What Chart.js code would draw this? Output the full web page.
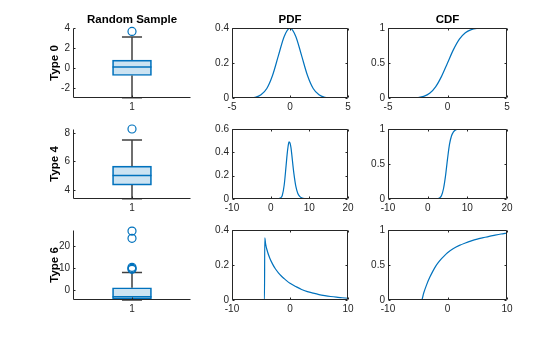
<!DOCTYPE html>
<html>
<head>
<meta charset="utf-8">
<script src="https://cdn.jsdelivr.net/npm/chart.js@4.4.1/dist/chart.umd.min.js"></script>
<style>
  body { margin: 0; background: #fff; width: 560px; height: 337px; position: relative; overflow: hidden; }
  canvas { position: absolute; }
</style>
</head>
<body>
<canvas id="box0"></canvas><canvas id="pdf0"></canvas><canvas id="cdf0"></canvas>
<canvas id="box1"></canvas><canvas id="pdf1"></canvas><canvas id="cdf1"></canvas>
<canvas id="box2"></canvas><canvas id="pdf2"></canvas><canvas id="cdf2"></canvas>
<script>
// ---- data ----
const rowNames = ['Type 0', 'Type 4', 'Type 6'];
const colTitles = ['Random Sample', 'PDF', 'CDF'];

// box stats: [lower whisker, q1, median, q3, upper whisker]
const boxType0 = [-3.0, -0.76, 0.1, 0.78, 3.1];
const outType0 = [3.66];
const boxType4 = [3.36, 4.33, 5.0, 5.66, 7.5];
const outType4 = [8.28];
const boxType6 = [-4.35, -4.0, -2.9, 1.2, 8.1];
const outType6 = [9.6, 10.0, 10.5, 23.7, 27.0];

const boxYLim0 = [-3.02, 4.0];
const boxYLim4 = [3.35, 8.28];
const boxYLim6 = [-4.4, 27.5];
const boxYTicks0 = [-2, 0, 2, 4];
const boxYTicks4 = [4, 6, 8];
const boxYTicks6 = [0, 10, 20];
const boxXTicks = [1];

// Type 0
const x0 = [-5, -4.5, -4, -3.5, -3, -2.5, -2, -1.5, -1, -0.5, 0, 0.5, 1, 1.5, 2, 2.5, 3, 3.5, 4, 4.5, 5];
const pdf0 = [0, 0, 0.0001, 0.001, 0.004, 0.018, 0.054, 0.13, 0.242, 0.352, 0.399, 0.352, 0.242, 0.13, 0.054, 0.018, 0.004, 0.001, 0.0001, 0, 0];
const cdf0 = [0, 0, 0, 0.0002, 0.001, 0.006, 0.023, 0.067, 0.159, 0.309, 0.5, 0.691, 0.841, 0.933, 0.977, 0.994, 0.999, 1, 1, 1, 1];

// Type 4
const x4pdf = [-5, 0, 1, 2, 2.5, 3, 3.5, 4, 4.25, 4.5, 4.75, 5, 5.25, 5.5, 5.75, 6, 6.5, 7, 7.5, 8, 9, 10, 12, 15];
const pdf4 = [0, 0, 0, 0.003, 0.009, 0.03, 0.12, 0.29, 0.38, 0.45, 0.49, 0.48, 0.44, 0.37, 0.29, 0.22, 0.11, 0.05, 0.022, 0.01, 0.003, 0.001, 0, 0];
const x4cdf = [-5, 0, 2, 2.5, 3, 3.5, 4, 4.5, 5, 5.5, 6, 6.5, 7, 7.5, 8, 10, 15];
const cdf4 = [0, 0, 0.002, 0.005, 0.015, 0.05, 0.15, 0.33, 0.57, 0.78, 0.9, 0.96, 0.985, 0.994, 0.998, 1, 1];

// Type 6
const x6pdf = [-10, -4.4, -4.35, -4.2, -4, -3.5, -3, -2.5, -2, -1.5, -1, -0.5, 0, 1, 2, 3, 4, 5, 6, 7, 8, 9, 10];
const pdf6 = [0, 0, 0.355, 0.32, 0.29, 0.24, 0.205, 0.177, 0.155, 0.137, 0.122, 0.108, 0.096, 0.077, 0.06, 0.048, 0.039, 0.031, 0.025, 0.02, 0.016, 0.013, 0.01];
const x6cdf = [-10, -4.35, -4, -3.5, -3, -2.5, -2, -1.5, -1, -0.5, 0, 1, 2, 3, 4, 5, 6, 7, 8, 9, 10];
const cdf6 = [0, 0, 0.1, 0.22, 0.32, 0.405, 0.48, 0.54, 0.59, 0.635, 0.675, 0.735, 0.78, 0.815, 0.845, 0.87, 0.89, 0.91, 0.927, 0.943, 0.957];

const pdfXLim = [[-5, 5], [-10, 20], [-10, 10]];
const pdfXTicks = [[-5, 0, 5], [-10, 0, 10, 20], [-10, 0, 10]];
const pdfYMax = [0.4, 0.6, 0.4];
const pdfYTicks = [[0, 0.2, 0.4], [0, 0.2, 0.4, 0.6], [0, 0.2, 0.4]];
const cdfYTicks = [0, 0.5, 1];

// ---- look ----
const FONT = "'Liberation Sans', Arial, Helvetica, sans-serif";
const BLUE = '#0072BD';
const AXIS = '#262626';
const colLeft = [73, 232, 388];
const colWidth = [118, 116, 119];
const rowTop = [28, 129, 230];
const rowHeight = 70;
const PAD_T = 20, PAD_R = 12, PAD_B = 18;
const BOX_HALF = 0.165, CAP_HALF = 0.085;

// axis lines + inward ticks (matlab style)
const frame = {
  id: 'frame',
  afterDraw(chart) {
    const { ctx, chartArea: a, scales: { x, y } } = chart;
    const boxed = chart.options.plugins.frame.boxed;
    const l = Math.floor(a.left) + 0.5, r = Math.floor(a.right) - 0.5;
    const t = Math.floor(a.top) + 0.5, b = Math.floor(a.bottom) - 0.5;
    ctx.save();
    ctx.strokeStyle = AXIS;
    ctx.lineWidth = 1;
    ctx.beginPath();
    ctx.moveTo(l, t); ctx.lineTo(l, b); ctx.lineTo(r, b);
    if (boxed) { ctx.lineTo(r, t); ctx.lineTo(l, t); }
    x.ticks.forEach(tk => {
      const px = Math.round(x.getPixelForValue(tk.value)) + 0.5;
      ctx.moveTo(px, b); ctx.lineTo(px, b - 2);
      if (boxed) { ctx.moveTo(px, t); ctx.lineTo(px, t + 2); }
    });
    y.ticks.forEach(tk => {
      const py = Math.round(y.getPixelForValue(tk.value)) + 0.5;
      ctx.moveTo(l, py); ctx.lineTo(l + 2, py);
      if (boxed) { ctx.moveTo(r, py); ctx.lineTo(r - 2, py); }
    });
    ctx.stroke();
    ctx.restore();
  }
};

function place(id, col, row, padL) {
  const cv = document.getElementById(id);
  cv.width = padL + colWidth[col] + PAD_R;
  cv.height = PAD_T + rowHeight + PAD_B;
  cv.style.left = (colLeft[col] - padL) + 'px';
  cv.style.top = (rowTop[row] - PAD_T) + 'px';
  return cv;
}

function axis(min, max, ticks, fit) {
  return {
    type: 'linear', min, max, offset: false,
    afterBuildTicks: s => { s.ticks = ticks.map(v => ({ value: v })); },
    afterFit: fit,
    ticks: { font: { family: FONT, size: 10 }, color: AXIS, padding: 3, maxRotation: 0, autoSkip: false, callback: v => String(v) },
    grid: { display: false, drawTicks: false },
    border: { display: false }
  };
}

function baseOptions(row, col, padL, xScale, yScale, boxed) {
  return {
    responsive: false, animation: false, devicePixelRatio: 1, events: [],
    layout: { padding: { top: row === 0 ? 5.1 : PAD_T, right: PAD_R, bottom: 0, left: 0 } },
    scales: { x: xScale, y: yScale },
    plugins: {
      legend: { display: false },
      tooltip: { enabled: false },
      frame: { boxed },
      title: {
        display: row === 0, text: colTitles[col], fullSize: false,
        font: { family: FONT, size: 11.5, weight: 'bold' }, color: '#000',
        padding: { top: 0, bottom: 1.1 }
      }
    }
  };
}

function makeBox(row, stats, outliers, yLim, yTicks) {
  const padL = 40;
  const cv = place('box' + row, 0, row, padL);
  const [lo, q1, med, q3, hi] = stats;
  const xScale = axis(0.5, 1.5, boxXTicks, s => { s.height = PAD_B; });
  const yScale = axis(yLim[0], yLim[1], yTicks, s => { s.width = padL; });
  yScale.title = { display: true, text: rowNames[row], color: '#000',
    font: { family: FONT, size: 11.5, weight: 'bold' }, padding: { top: 15, bottom: 0 } };
  const whisker = { type: 'line', borderColor: '#404040', borderWidth: 1.5, pointRadius: 0, clip: false };
  new Chart(cv, {
    type: 'scatter',
    data: {
      datasets: [
        { type: 'line', data: [{ x: 1 - BOX_HALF, y: med }, { x: 1 + BOX_HALF, y: med }],
          borderColor: BLUE, borderWidth: 1.5, pointRadius: 0, clip: false },
        { type: 'scatter', data: outliers.map(v => ({ x: 1, y: v })), pointStyle: 'circle',
          pointRadius: 4, borderColor: BLUE, backgroundColor: 'rgba(0,0,0,0)', borderWidth: 1.2, clip: false },
        Object.assign({ data: [{ x: 1, y: q3 }, { x: 1, y: hi }, { x: 1 - CAP_HALF, y: hi }, { x: 1 + CAP_HALF, y: hi }] }, whisker),
        Object.assign({ data: [{ x: 1, y: q1 }, { x: 1, y: lo }, { x: 1 - CAP_HALF, y: lo }, { x: 1 + CAP_HALF, y: lo }] }, whisker),
        { type: 'bar', data: [{ x: 1, y: [q1, q3] }], backgroundColor: 'rgba(0,114,189,0.2)',
          borderColor: BLUE, borderWidth: 1, borderSkipped: false, barThickness: 39, grouped: false, clip: false }
      ]
    },
    options: baseOptions(row, 0, padL, xScale, yScale, false),
    plugins: [frame]
  });
}

function makeCurve(id, row, col, xs, ys, yMax, yTicks) {
  const padL = 30;
  const cv = place(id, col, row, padL);
  const xScale = axis(pdfXLim[row][0], pdfXLim[row][1], pdfXTicks[row], s => { s.height = PAD_B; });
  const yScale = axis(0, yMax, yTicks, s => { s.width = padL; });
  new Chart(cv, {
    type: 'scatter',
    data: {
      datasets: [{
        data: xs.map((x, i) => ({ x, y: ys[i] })), showLine: true,
        borderColor: BLUE, borderWidth: 1.2, pointRadius: 0, cubicInterpolationMode: 'monotone'
      }]
    },
    options: baseOptions(row, col, padL, xScale, yScale, true),
    plugins: [frame]
  });
}

makeBox(0, boxType0, outType0, boxYLim0, boxYTicks0);
makeBox(1, boxType4, outType4, boxYLim4, boxYTicks4);
makeBox(2, boxType6, outType6, boxYLim6, boxYTicks6);

makeCurve('pdf0', 0, 1, x0, pdf0, pdfYMax[0], pdfYTicks[0]);
makeCurve('pdf1', 1, 1, x4pdf, pdf4, pdfYMax[1], pdfYTicks[1]);
makeCurve('pdf2', 2, 1, x6pdf, pdf6, pdfYMax[2], pdfYTicks[2]);

makeCurve('cdf0', 0, 2, x0, cdf0, 1, cdfYTicks);
makeCurve('cdf1', 1, 2, x4cdf, cdf4, 1, cdfYTicks);
makeCurve('cdf2', 2, 2, x6cdf, cdf6, 1, cdfYTicks);
</script>
</body>
</html>
